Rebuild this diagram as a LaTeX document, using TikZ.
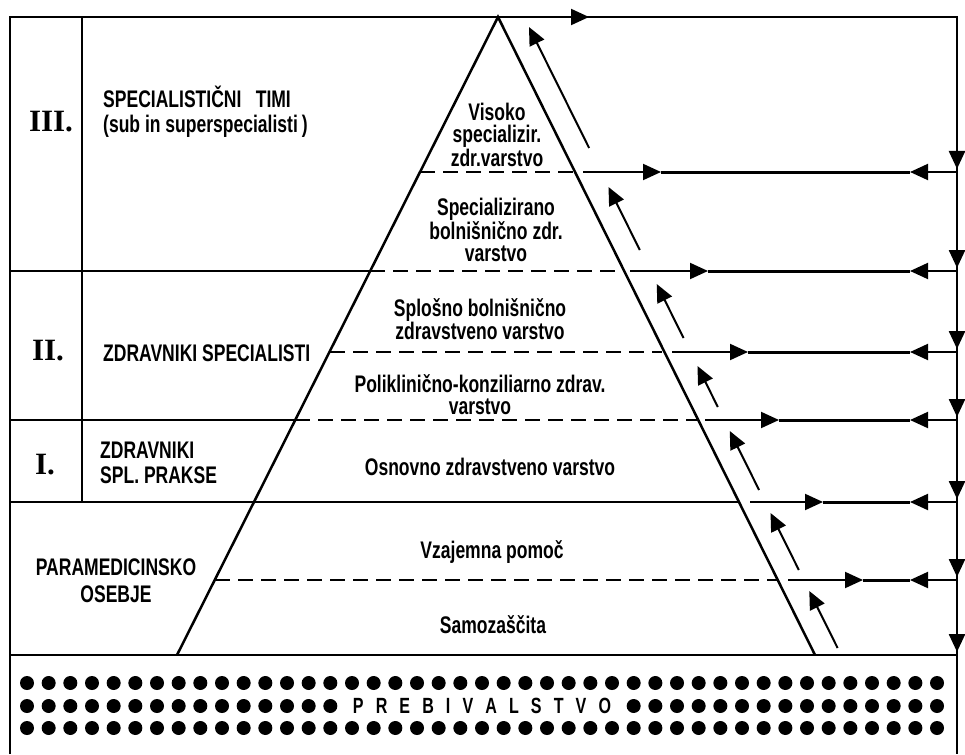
\documentclass[tikz,border=0pt]{standalone}
\usepackage{fontspec}
\usetikzlibrary{arrows.meta}
\newfontfamily\lab{Liberation Sans}[FakeStretch=0.73]
\newfontfamily\numf{Liberation Serif}
\begin{document}
\begin{tikzpicture}[x=1pt,y=-1pt,
  frame/.style={line width=2.5pt},
  dashln/.style={line width=2.2pt, dash pattern=on 15pt off 8pt},
  thinln/.style={line width=2pt},
  thickln/.style={line width=3pt},
  tipr/.style={-{Triangle[length=18pt,width=16pt]}},
  lbl/.style={font=\lab\bfseries\fontsize{24}{22}\selectfont, inner sep=0pt},
  num/.style={font=\numf\bfseries\fontsize{31}{31}\selectfont, inner sep=0pt},
  dot/.style={fill=black}
]
\useasboundingbox (0,0) rectangle (965,754);

% ---------- frame ----------
\coordinate (tl) at (10,17);
\coordinate (tr) at (957,17);
\coordinate (blc) at (10,754);
\coordinate (brc) at (957,754);
\draw[frame] (blc) -- (tl) -- (tr) -- (brc);
\coordinate (c1t) at (82,17);
\coordinate (c1b) at (82,502);
\draw[frame] (c1t) -- (c1b);

% ---------- pyramid ----------
\coordinate (apex) at (498,17);
\coordinate (pbl) at (177,655);
\coordinate (pbr) at (815,655);
\draw[frame, line join=miter] (pbl) -- (apex) -- (pbr);

% ---------- level lines ----------
\draw[dashln] (420,172) -- (575,172);
\draw[frame] (10,271) -- (370,271);
\draw[dashln] (370,271) -- (624,271);
\draw[dashln] (330,352) -- (662,352);
\draw[frame] (10,420) -- (295,420);
\draw[dashln] (295,420) -- (698,420);
\draw[frame] (10,502) -- (738,502);
\draw[dashln] (215,580) -- (778,580);
\draw[frame] (10,655) -- (957,655);

% ---------- right side horizontal arrows ----------
\draw[tipr, thinln] (550,17) -- (589,17);
\foreach \y/\s/\t in {172/583/661, 271/630/708, 352/672/748, 420/705/779, 502/750/823, 580/788/863}{
  \coordinate (s\y) at (\s,\y);
  \coordinate (t\y) at (\t,\y);
  \coordinate (l\y) at (910,\y);
  \coordinate (e\y) at (957,\y);
  \draw[thinln, tipr] (s\y) -- (t\y);
  \draw[thickln] (t\y) -- (l\y);
  \draw[thinln, tipr] (e\y) -- (l\y);
}
% down arrows on the right edge
\foreach \y in {172,271,352,420,502,580,655}{
  \draw[frame, tipr] (957,\y-25) -- (957,\y-3);
}

% ---------- upward arrows beside the pyramid ----------
\foreach \a/\b in {148/27, 250/187, 338/284, 407/366, 490/431, 570/513, 648/591}{
  \coordinate (ua) at ({524+0.497*(\a-17)},\a);
  \coordinate (ub) at ({524+0.497*(\b-17)},\b);
  \draw[thinln, tipr] (ua) -- (ub);
}

% ---------- left column labels ----------
\node[num] (n3) at (51,122) {III.};
\node[num] (n2) at (48,351) {II.};
\node[num] (n1) at (45,465) {I.};
\node[lbl, align=left, anchor=west, font=\lab\bfseries\fontsize{24}{25}\selectfont] (l3) at (103,112) {SPECIALISTIČNI\hspace{0.6em}TIMI\\(sub in superspecialisti\,)};
\node[lbl, anchor=west] (l2) at (103,353) {ZDRAVNIKI SPECIALISTI};
\node[lbl, align=left, anchor=west, font=\lab\bfseries\fontsize{24}{25}\selectfont] (l1) at (100,463) {ZDRAVNIKI\\SPL. PRAKSE};
\node[lbl, align=center, font=\lab\bfseries\fontsize{24}{27}\selectfont] (l0) at (116,581) {PARAMEDICINSKO\\OSEBJE};

% ---------- pyramid labels ----------
\node[lbl, align=center] (p1) at (497,135) {Visoko\\specializir.\\zdr.varstvo};
\node[lbl, align=center] (p2) at (496,230) {Specializirano\\bolnišnično zdr.\\varstvo};
\node[lbl, align=center] (p3) at (480,319) {Splošno bolnišnično\\zdravstveno varstvo};
\node[lbl, align=center] (p4) at (480,395) {Poliklinično-konziliarno zdrav.\\varstvo};
\node[lbl] (p5) at (490,467) {Osnovno zdravstveno varstvo};
\node[lbl] (p6) at (492,552) {Vzajemna pomoč};
\node[lbl] (p7) at (493,625) {Samozaščita};

% ---------- population ----------
\foreach \r in {683,706,728}{
  \foreach \i in {0,...,42}{
    \ifnum\r=706
      \ifnum\i>14 \ifnum\i<28 \else \fill[dot] ({27+21.667*\i},\r) circle (7pt); \fi
      \else \fill[dot] ({27+21.667*\i},\r) circle (7pt); \fi
    \else
      \fill[dot] ({27+21.667*\i},\r) circle (7pt);
    \fi
  }
}
\node[lbl, font=\lab\bfseries\fontsize{22}{22}\selectfont] (pop) at (482,706) {P\hspace{0.55em}R\hspace{0.55em}E\hspace{0.55em}B\hspace{0.55em}I\hspace{0.55em}V\hspace{0.55em}A\hspace{0.55em}L\hspace{0.55em}S\hspace{0.55em}T\hspace{0.55em}V\hspace{0.55em}O};
\end{tikzpicture}
\end{document}
